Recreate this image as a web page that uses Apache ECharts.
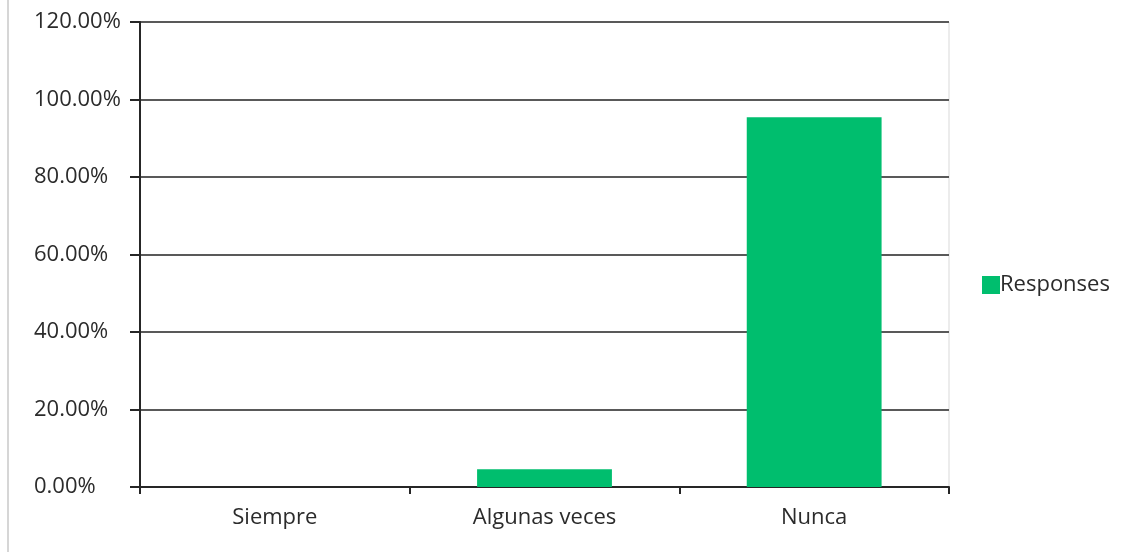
<!DOCTYPE html>
<html lang="es">
<head>
  <meta charset="UTF-8">
  <title>Responses</title>
  <script src="https://cdn.jsdelivr.net/npm/echarts@6/dist/echarts.min.js"></script>
  <style>
    html, body { margin: 0; padding: 0; background: #fff; }
  </style>
</head>
<body>
  <div id="main" style="width: 1128px; height: 552px;"></div>
  <script>
    // datos
    var categories = ['Siempre', 'Algunas veces', 'Nunca'];
    var responses = [0, 4.55, 95.45];
    var yTicks = [0, 20, 40, 60, 80, 100, 120];

    var font = '"Open Sans", sans-serif';
    var txtColor = '#2b2b2b';
    var myChart = echarts.init(document.getElementById('main'));

    var option = {
      animation: false,
      backgroundColor: '#fff',
      grid: { left: 140, right: 179, top: 22, bottom: 65 },
      legend: {
        data: ['Responses'],
        orient: 'vertical',
        left: 977,
        top: 269,
        icon: 'rect',
        itemWidth: 18,
        itemHeight: 18,
        itemGap: 4,
        textStyle: { fontFamily: font, fontSize: 22, color: txtColor, padding: [0, 0, 0, -5] }
      },
      xAxis: {
        type: 'category',
        data: categories,
        axisLine: { lineStyle: { color: '#262626', width: 2 } },
        axisTick: { show: true, length: 7, lineStyle: { color: '#262626', width: 2 } },
        axisLabel: { fontFamily: font, fontSize: 22, color: txtColor, margin: 20 }
      },
      yAxis: {
        type: 'value',
        min: yTicks[0],
        max: yTicks[yTicks.length - 1],
        interval: 20,
        axisLine: { show: true, lineStyle: { color: '#262626', width: 2 } },
        axisTick: { show: true, length: 10, lineStyle: { color: '#262626', width: 2 } },
        splitLine: { lineStyle: { color: '#595959', width: 2 } },
        axisLabel: {
          fontFamily: font, fontSize: 22, color: txtColor,
          align: 'left', margin: 106,
          formatter: function (v) { return v.toFixed(2) + '%'; }
        }
      },
      series: [{
        name: 'Responses',
        type: 'bar',
        data: responses,
        barWidth: '50%',
        itemStyle: { color: '#00be6e' }
      }],
      graphic: [
        { type: 'line', shape: { x1: 8, y1: 0, x2: 8, y2: 552 }, style: { stroke: '#c8c8c8', lineWidth: 1.5 } },
        { type: 'line', shape: { x1: 949, y1: 22, x2: 949, y2: 487 }, style: { stroke: '#e6e6e6', lineWidth: 1.5 } }
      ]
    };

    myChart.setOption(option);
  </script>
</body>
</html>
